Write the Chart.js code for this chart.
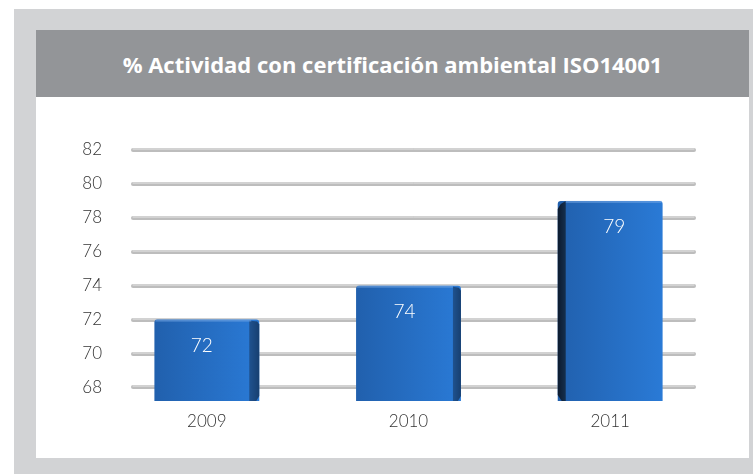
<!DOCTYPE html>
<html>
<head>
<meta charset="utf-8">
<script src="https://cdn.jsdelivr.net/npm/chart.js@4/dist/chart.umd.min.js"></script>
<style>
  html, body { margin: 0; padding: 0; background: #ffffff; }
  body { width: 753px; height: 474px; position: relative; overflow: hidden; }
  #frame { position: absolute; left: 14px; top: 9px; width: 739px; height: 465px; background: #d2d3d5; }
  #panel { position: absolute; left: 36px; top: 30px; width: 713px; height: 428px; background: #ffffff; }
  #title { position: absolute; left: 0; top: 0; width: 713px; height: 67px; background: #939598;
           color: #ffffff; font: bold 22px "Open Sans", sans-serif; display: flex;
           align-items: center; justify-content: center; letter-spacing: 0px; }
  #wrap { position: absolute; left: 0; top: 67px; width: 713px; height: 361px; }
</style>
</head>
<body>
<div id="frame"></div>
<div id="panel">
  <div id="title">% Actividad con certificación ambiental ISO14001</div>
  <div id="wrap"><canvas id="c" width="713" height="361"></canvas></div>
</div>
<script>
// Share of activity with ISO 14001 environmental certification
const years = ['2009', '2010', '2011'];
const certifiedPct = [72, 74, 79];
const yTicks = [68, 70, 72, 74, 76, 78, 80, 82];

const labelFont = { family: 'Lato, "Open Sans", sans-serif', size: 17, weight: '300' };

// Rod-like horizontal grid lines, drawn behind the bars
const rodGrid = {
  id: 'rodGrid',
  beforeDatasetsDraw(chart) {
    const { ctx, chartArea, scales } = chart;
    const x0 = chartArea.left + 27, x1 = chartArea.right - 17;
    ctx.save();
    ctx.lineCap = 'round';
    yTicks.forEach(v => {
      const y = Math.round(scales.y.getPixelForValue(v));
      ctx.strokeStyle = '#bdbdbd';
      ctx.lineWidth = 4;
      ctx.beginPath(); ctx.moveTo(x0, y); ctx.lineTo(x1, y); ctx.stroke();
      ctx.strokeStyle = 'rgba(235,235,235,0.9)';
      ctx.lineWidth = 1;
      ctx.beginPath(); ctx.moveTo(x0, y - 1); ctx.lineTo(x1, y - 1); ctx.stroke();
    });
    ctx.restore();
  }
};

// Shaded side faces and value labels on the bars
const barDecor = {
  id: 'barDecor',
  afterDatasetsDraw(chart) {
    const { ctx, chartArea } = chart;
    const meta = chart.getDatasetMeta(0);
    ctx.save();
    meta.data.forEach((bar, i) => {
      const left = bar.x - bar.width / 2, right = bar.x + bar.width / 2;
      const top = bar.y, bottom = chartArea.bottom;
      let faceCx = bar.x;
      if (i < 2) {
        const d = i === 0 ? 10 : 8;
        const g = ctx.createLinearGradient(right - d, 0, right, 0);
        g.addColorStop(0, '#1f528f'); g.addColorStop(1, '#173f70');
        ctx.fillStyle = g;
        ctx.beginPath();
        ctx.moveTo(right - d, top + 1);
        ctx.lineTo(right - 2, top + 2);
        ctx.lineTo(right, top + 5);
        ctx.lineTo(right, bottom - 5);
        ctx.lineTo(right - 3, bottom);
        ctx.lineTo(right - d, bottom);
        ctx.closePath();
        ctx.fill();
        faceCx = bar.x - d / 2;
      } else {
        const d = 8;
        const g = ctx.createLinearGradient(left, 0, left + d, 0);
        g.addColorStop(0, '#0c1a2e'); g.addColorStop(1, '#15304f');
        ctx.fillStyle = g;
        ctx.beginPath();
        ctx.moveTo(left + d, top);
        ctx.lineTo(left + 3, top + 3);
        ctx.lineTo(left, top + 8);
        ctx.lineTo(left, bottom - 6);
        ctx.lineTo(left + 4, bottom);
        ctx.lineTo(left + d, bottom);
        ctx.closePath();
        ctx.fill();
        faceCx = bar.x + d / 2;
      }
      // highlight along the top edge
      ctx.fillStyle = 'rgba(120,170,230,0.55)';
      ctx.fillRect(left + (i === 2 ? 8 : 1), top, bar.width - 9, 2);

      ctx.fillStyle = '#ffffff';
      ctx.font = '300 19px Lato, "Open Sans", sans-serif';
      ctx.textAlign = 'center';
      ctx.textBaseline = 'middle';
      ctx.fillText(String(certifiedPct[i]), faceCx, top + 26);
    });
    ctx.restore();
  }
};

const chart = new Chart(document.getElementById('c'), {
  type: 'bar',
  data: {
    labels: years,
    datasets: [{
      data: certifiedPct,
      backgroundColor(ctx) {
        const chart = ctx.chart;
        const el = chart.getDatasetMeta(0).data[ctx.dataIndex];
        if (!el || !chart.chartArea || !isFinite(el.x) || !isFinite(el.width)) return '#2468b8';
        const l = el.x - el.width / 2, r = el.x + el.width / 2;
        const g = chart.ctx.createLinearGradient(l, 0, r, 0);
        g.addColorStop(0, '#2160ad');
        g.addColorStop(1, '#2a7ad6');
        return g;
      },
      borderWidth: 0,
      borderRadius: 3,
      borderSkipped: false,
      barPercentage: 0.52,
      categoryPercentage: 1.0
    }]
  },
  options: {
    responsive: false,
    animation: false,
    layout: { padding: { left: 0, right: 38, top: 53, bottom: 0 } },
    plugins: { legend: { display: false }, tooltip: { enabled: false }, title: { display: false } },
    scales: {
      x: {
        grid: { display: false, drawTicks: false },
        border: { display: false },
        ticks: { color: '#333333', font: labelFont, padding: 10 },
        afterFit(scale) { scale.height = 57; }
      },
      y: {
        min: 67.2,
        max: 82,
        grid: { display: false, drawTicks: false },
        border: { display: false },
        afterBuildTicks(scale) { scale.ticks = yTicks.map(v => ({ value: v })); },
        ticks: { color: '#333333', font: labelFont, padding: 4 },
        afterFit(scale) { scale.width = 70; }
      }
    }
  },
  plugins: [rodGrid, barDecor]
});
// second pass so the bar gradients use the laid-out bar positions
chart.update('none');
</script>
</body>
</html>
